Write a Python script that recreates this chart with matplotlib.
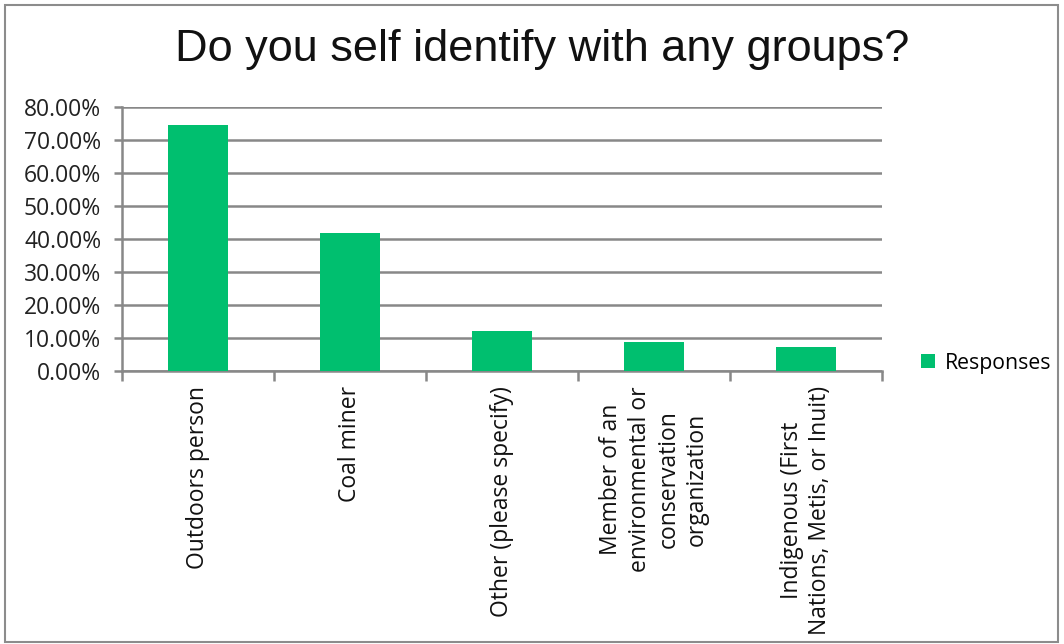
import matplotlib
matplotlib.use("Agg")
import matplotlib.pyplot as plt
from matplotlib.patches import Rectangle
import numpy as np

categories = ["Outdoors person", "Coal miner", "Other (please specify)",
              "Member of an\nenvironmental or\nconservation\norganization",
              "Indigenous (First\nNations, Metis, or Inuit)"]
values = [74.6, 41.8, 12.1, 8.7, 7.3]
yticks = [0, 10, 20, 30, 40, 50, 60, 70, 80]
title = "Do you self identify with any groups?"
series_name = "Responses"

W, H = 1064, 644
fig = plt.figure(figsize=(W/100, H/100), dpi=100)
fig.patch.set_facecolor("white")
fig.add_artist(Rectangle((5/W, 2/H), (1058-5)/W, (639-2)/H, transform=fig.transFigure,
                         fill=False, edgecolor="#8c8c8c", linewidth=1.5))

ax = fig.add_axes([122/W, 1-371/H, (882-122)/W, (371-107)/H])
x = np.arange(len(categories))
bars = ax.bar(x, values, width=0.4, color="#00bf6f", zorder=3, label=series_name)
ax.set_xlim(-0.5, len(categories)-0.5)
ax.set_ylim(0, 80)
ax.set_yticks(yticks)
ax.set_yticklabels([f"{v:.2f}%" for v in yticks], fontsize=16.5, family="Open Sans", color="#222222")
ax.yaxis.grid(True, color="#888888", linewidth=1.8, zorder=0)
ax.set_axisbelow(True)
for s in ["top", "right"]:
    ax.spines[s].set_visible(False)
for s in ["left", "bottom"]:
    ax.spines[s].set_color("#888888")
    ax.spines[s].set_linewidth(1.8)
ax.tick_params(axis="y", length=6, width=1.8, color="#888888", pad=9)
ax.set_xticks(x)
ax.set_xticklabels(categories, rotation=90, fontsize=16.5, family="Open Sans",
                   ha="center", va="top", multialignment="center", color="#111111",
                   linespacing=1.25)
ax.tick_params(axis="x", length=0, pad=11)
ax.set_xticks(np.arange(len(categories)+1) - 0.5, minor=True)
ax.tick_params(axis="x", which="minor", length=7, width=1.8, color="#888888")

fig.text(542/W, 1-50/H, title, ha="center", va="center", fontsize=32.5, family="Liberation Sans",
         color="#111111")
fig.legend(handles=[bars], labels=[series_name], loc="center left",
           bbox_to_anchor=(902/W, 1-363/H), frameon=False,
           prop={"family": "Open Sans", "size": 15.3}, handlelength=0.65, handleheight=0.65,
           handletextpad=0.45)
fig.savefig("out.png", dpi=100)
